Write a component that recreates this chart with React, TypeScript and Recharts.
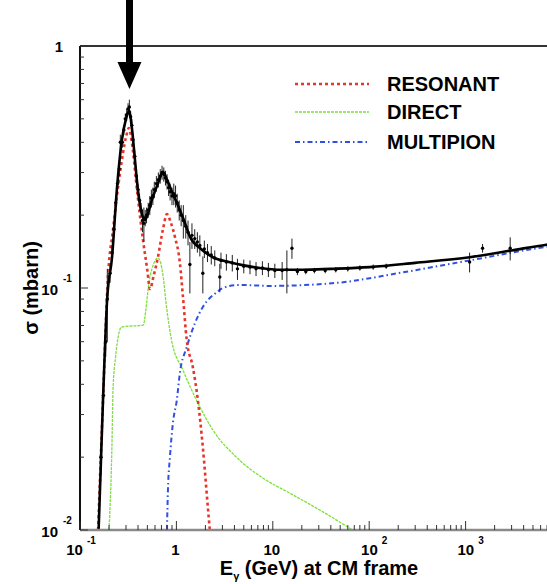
import {
  ComposedChart,
  Line,
  Scatter,
  ErrorBar,
  XAxis,
  YAxis,
  ReferenceLine,
  Legend,
  Label
} from "recharts";

const FONT = '"Liberation Sans", Arial, Helvetica, sans-serif';

// total fit (solid black)
const totalFit = [
  { e: 0.156, s: 0.01 },
  { e: 0.173, s: 0.034 },
  { e: 0.191, s: 0.089 },
  { e: 0.215, s: 0.134 },
  { e: 0.241, s: 0.254 },
  { e: 0.272, s: 0.409 },
  { e: 0.3, s: 0.5 },
  { e: 0.322, s: 0.54 },
  { e: 0.345, s: 0.46 },
  { e: 0.37, s: 0.345 },
  { e: 0.399, s: 0.254 },
  { e: 0.435, s: 0.205 },
  { e: 0.472, s: 0.191 },
  { e: 0.556, s: 0.231 },
  { e: 0.643, s: 0.27 },
  { e: 0.724, s: 0.302 },
  { e: 0.8, s: 0.28 },
  { e: 0.9, s: 0.25 },
  { e: 1.01, s: 0.225 },
  { e: 1.2, s: 0.19 },
  { e: 1.38, s: 0.163 },
  { e: 1.8, s: 0.145 },
  { e: 2.39, s: 0.134 },
  { e: 3.5, s: 0.128 },
  { e: 5, s: 0.124 },
  { e: 7.33, s: 0.121 },
  { e: 12, s: 0.119 },
  { e: 20.5, s: 0.119 },
  { e: 40, s: 0.12 },
  { e: 101, s: 0.122 },
  { e: 300, s: 0.127 },
  { e: 1100, s: 0.134 },
  { e: 3000, s: 0.143 },
  { e: 6900, s: 0.151 },
  { e: 10000, s: 0.154 }
];

const resonant = [
  { e: 0.154, s: 0.01 },
  { e: 0.173, s: 0.034 },
  { e: 0.195, s: 0.111 },
  { e: 0.22, s: 0.174 },
  { e: 0.26, s: 0.299 },
  { e: 0.3, s: 0.42 },
  { e: 0.322, s: 0.458 },
  { e: 0.345, s: 0.4 },
  { e: 0.39, s: 0.254 },
  { e: 0.45, s: 0.158 },
  { e: 0.5, s: 0.118 },
  { e: 0.531, s: 0.099 },
  { e: 0.58, s: 0.112 },
  { e: 0.643, s: 0.134 },
  { e: 0.724, s: 0.174 },
  { e: 0.798, s: 0.202 },
  { e: 0.88, s: 0.185 },
  { e: 0.964, s: 0.163 },
  { e: 1.087, s: 0.127 },
  { e: 1.17, s: 0.0918 },
  { e: 1.28, s: 0.061 },
  { e: 1.48, s: 0.0472 },
  { e: 1.67, s: 0.0344 },
  { e: 1.88, s: 0.022 },
  { e: 2.12, s: 0.0124 },
  { e: 2.22, s: 0.01 }
];

const direct = [
  { e: 0.2, s: 0.01 },
  { e: 0.215, s: 0.0235 },
  { e: 0.22, s: 0.0379 },
  { e: 0.234, s: 0.052 },
  { e: 0.27, s: 0.069 },
  { e: 0.453, s: 0.0703 },
  { e: 0.478, s: 0.079 },
  { e: 0.491, s: 0.087 },
  { e: 0.531, s: 0.111 },
  { e: 0.646, s: 0.133 },
  { e: 0.73, s: 0.111 },
  { e: 0.78, s: 0.087 },
  { e: 0.89, s: 0.061 },
  { e: 1.17, s: 0.0458 },
  { e: 1.67, s: 0.0335 },
  { e: 2.39, s: 0.0259 },
  { e: 4.24, s: 0.0199 },
  { e: 7.88, s: 0.0164 },
  { e: 15, s: 0.0142 },
  { e: 30.7, s: 0.0121 },
  { e: 67, s: 0.01 }
];

const multipion = [
  { e: 0.798, s: 0.01 },
  { e: 0.817, s: 0.0146 },
  { e: 0.857, s: 0.02 },
  { e: 0.92, s: 0.0277 },
  { e: 1.01, s: 0.0344 },
  { e: 1.087, s: 0.0446 },
  { e: 1.28, s: 0.057 },
  { e: 1.56, s: 0.0717 },
  { e: 1.88, s: 0.0835 },
  { e: 2.63, s: 0.0962 },
  { e: 3.03, s: 0.1 },
  { e: 4.55, s: 0.103 },
  { e: 9.31, s: 0.102 },
  { e: 46, s: 0.105 },
  { e: 222, s: 0.116 },
  { e: 1100, s: 0.13 },
  { e: 6900, s: 0.148 },
  { e: 10000, s: 0.151 }
];

// measured points with errors
const measured = [
  { e: 0.165, s: 0.02, err: 0.003 },
  { e: 0.175, s: 0.036, err: 0.005 },
  { e: 0.185, s: 0.06, err: 0.008 },
  { e: 0.192, s: 0.09, err: 0.03 },
  { e: 0.205, s: 0.115, err: 0.01 },
  { e: 0.215, s: 0.14, err: 0.01 },
  { e: 0.225, s: 0.175, err: 0.012 },
  { e: 0.235, s: 0.225, err: 0.015 },
  { e: 0.245, s: 0.27, err: 0.02 },
  { e: 0.255, s: 0.31, err: 0.02 },
  { e: 0.262, s: 0.4, err: 0.03 },
  { e: 0.275, s: 0.4, err: 0.02 },
  { e: 0.285, s: 0.45, err: 0.02 },
  { e: 0.295, s: 0.5, err: 0.025 },
  { e: 0.305, s: 0.52, err: 0.03 },
  { e: 0.315, s: 0.55, err: 0.03 },
  { e: 0.325, s: 0.56, err: 0.04 },
  { e: 0.335, s: 0.51, err: 0.03 },
  { e: 0.345, s: 0.47, err: 0.03 },
  { e: 0.355, s: 0.41, err: 0.025 },
  { e: 0.37, s: 0.35, err: 0.02 },
  { e: 0.385, s: 0.29, err: 0.02 },
  { e: 0.4, s: 0.255, err: 0.015 },
  { e: 0.415, s: 0.23, err: 0.015 },
  { e: 0.43, s: 0.21, err: 0.015 },
  { e: 0.445, s: 0.19, err: 0.02 },
  { e: 0.46, s: 0.185, err: 0.03 },
  { e: 0.475, s: 0.195, err: 0.015 },
  { e: 0.49, s: 0.2, err: 0.015 },
  { e: 0.51, s: 0.21, err: 0.015 },
  { e: 0.53, s: 0.22, err: 0.02 },
  { e: 0.55, s: 0.235, err: 0.02 },
  { e: 0.57, s: 0.24, err: 0.02 },
  { e: 0.59, s: 0.255, err: 0.02 },
  { e: 0.62, s: 0.27, err: 0.02 },
  { e: 0.65, s: 0.28, err: 0.02 },
  { e: 0.68, s: 0.29, err: 0.02 },
  { e: 0.71, s: 0.3, err: 0.02 },
  { e: 0.74, s: 0.295, err: 0.02 },
  { e: 0.77, s: 0.285, err: 0.02 },
  { e: 0.8, s: 0.275, err: 0.02 },
  { e: 0.83, s: 0.26, err: 0.02 },
  { e: 0.86, s: 0.25, err: 0.02 },
  { e: 0.9, s: 0.24, err: 0.02 },
  { e: 0.94, s: 0.245, err: 0.025 },
  { e: 0.98, s: 0.24, err: 0.025 },
  { e: 1.02, s: 0.225, err: 0.02 },
  { e: 1.07, s: 0.21, err: 0.02 },
  { e: 1.12, s: 0.2, err: 0.02 },
  { e: 1.18, s: 0.19, err: 0.03 },
  { e: 1.25, s: 0.18, err: 0.02 },
  { e: 1.32, s: 0.17, err: 0.02 },
  { e: 1.38, s: 0.125, err: 0.03 },
  { e: 1.45, s: 0.165, err: 0.02 },
  { e: 1.55, s: 0.16, err: 0.015 },
  { e: 1.65, s: 0.155, err: 0.015 },
  { e: 1.75, s: 0.15, err: 0.015 },
  { e: 1.88, s: 0.115, err: 0.02 },
  { e: 1.95, s: 0.145, err: 0.012 },
  { e: 2.1, s: 0.14, err: 0.012 },
  { e: 2.3, s: 0.137, err: 0.012 },
  { e: 2.5, s: 0.133, err: 0.01 },
  { e: 2.82, s: 0.111, err: 0.015 },
  { e: 2.9, s: 0.13, err: 0.01 },
  { e: 3.3, s: 0.128, err: 0.01 },
  { e: 3.8, s: 0.127, err: 0.01 },
  { e: 4.3, s: 0.12, err: 0.012 },
  { e: 5.0, s: 0.123, err: 0.008 },
  { e: 5.8, s: 0.122, err: 0.008 },
  { e: 6.7, s: 0.12, err: 0.008 },
  { e: 7.8, s: 0.121, err: 0.008 },
  { e: 9.0, s: 0.119, err: 0.008 },
  { e: 10.5, s: 0.118, err: 0.008 },
  { e: 12.5, s: 0.118, err: 0.01 },
  { e: 14, s: 0.119, err: 0.024 },
  { e: 15.8, s: 0.146, err: 0.014 },
  { e: 18, s: 0.117, err: 0.004 },
  { e: 22, s: 0.117, err: 0.003 },
  { e: 27, s: 0.118, err: 0.003 },
  { e: 35, s: 0.118, err: 0.003 },
  { e: 45, s: 0.119, err: 0.003 },
  { e: 60, s: 0.12, err: 0.003 },
  { e: 80, s: 0.121, err: 0.003 },
  { e: 110, s: 0.122, err: 0.003 },
  { e: 150, s: 0.123, err: 0.003 },
  { e: 1100, s: 0.128, err: 0.012 },
  { e: 1500, s: 0.146, err: 0.006 },
  { e: 2900, s: 0.146, err: 0.016 }
];

const xTicks = [
  0.1, 0.2, 0.3, 0.4, 0.5, 0.6, 0.7, 0.8, 0.9,
  1, 2, 3, 4, 5, 6, 7, 8, 9,
  10, 20, 30, 40, 50, 60, 70, 80, 90,
  100, 200, 300, 400, 500, 600, 700, 800, 900,
  1000, 2000, 3000, 4000, 5000, 6000, 7000, 8000, 9000, 10000
];
const yTicks = [
  0.01, 0.02, 0.03, 0.04, 0.05, 0.06, 0.07, 0.08, 0.09,
  0.1, 0.2, 0.3, 0.4, 0.5, 0.6, 0.7, 0.8, 0.9, 1
];
const xTickLabels = [
  { v: 0.1, base: "10", sup: "-1" },
  { v: 1, base: "1", sup: "" },
  { v: 10, base: "10", sup: "" },
  { v: 100, base: "10", sup: "2" },
  { v: 1000, base: "10", sup: "3" }
];
const yTickLabels = [
  { v: 0.01, base: "10", sup: "-2" },
  { v: 0.1, base: "10", sup: "-1" },
  { v: 1, base: "1", sup: "" }
];
const seriesNames = ["RESONANT", "DIRECT", "MULTIPION"];

const styles = [
  { color: "#e8352b", dash: "3 3", width: 2.6 },
  { color: "#7ee03c", dash: "3 1", width: 1.3 },
  { color: "#3050e0", dash: "5 3 1.5 3", width: 2 }
];

const isMajor = (v: number) => {
  const lg = Math.log10(v);
  return Math.abs(lg - Math.round(lg)) < 1e-6;
};
const findLabel = (list: typeof xTickLabels, v: number) =>
  list.find((t) => Math.abs(t.v - v) / t.v < 1e-6);

const XTick = ({ x, y, payload }: any) => {
  const v = payload.value;
  const major = isMajor(v);
  const lab = major ? findLabel(xTickLabels, v) : undefined;
  const shift = lab && lab.sup ? (lab.sup.length > 1 ? 1 : 5) : -1;
  return (
    <g>
      <line x1={x} x2={x} y1={y} y2={y - (major ? 9 : 5)} stroke="#333" strokeWidth={1} />
      {lab && (
        <text
          x={x + shift}
          y={y + 25}
          textAnchor="middle"
          fontFamily={FONT}
          fontWeight="bold"
          fontSize={15}
          fill="#000"
        >
          {lab.base}
          {lab.sup && (
            <tspan dx={4} dy={-11} fontSize={10}>
              {lab.sup}
            </tspan>
          )}
        </text>
      )}
    </g>
  );
};

const YTick = ({ x, y, payload }: any) => {
  const v = payload.value;
  const major = isMajor(v);
  const lab = major ? findLabel(yTickLabels, v) : undefined;
  return (
    <g>
      <line x1={x} x2={x + (major ? 8 : 4)} y1={y} y2={y} stroke="#333" strokeWidth={1} />
      {lab && !lab.sup && (
        <text x={x - 17} y={y + 6} textAnchor="end" fontFamily={FONT} fontWeight="bold" fontSize={15}>
          {lab.base}
        </text>
      )}
      {lab && lab.sup && (
        <g fontFamily={FONT} fontWeight="bold">
          <text x={x - 22} y={y + 7} textAnchor="end" fontSize={15}>
            {lab.base}
          </text>
          <text x={x - 17} y={y - 6} textAnchor="start" fontSize={10}>
            {lab.sup}
          </text>
        </g>
      )}
    </g>
  );
};

const XTitle = ({ viewBox }: any) => (
  <text
    x={viewBox.x + viewBox.width / 2 - 2}
    y={viewBox.y + 45}
    textAnchor="middle"
    fontFamily={FONT}
    fontWeight="bold"
    fontSize={20}
  >
    E
    <tspan fontSize={11} dy={5}>
      γ
    </tspan>
    <tspan dy={-5}> (GeV) at CM frame</tspan>
  </text>
);

const YTitle = ({ viewBox }: any) => {
  const cx = 38;
  const cy = viewBox.y + viewBox.height / 2;
  return (
    <text
      x={cx}
      y={cy}
      transform={`rotate(-90, ${cx}, ${cy})`}
      textAnchor="middle"
      fontFamily={FONT}
      fontWeight="bold"
      fontSize={20}
    >
      σ (mbarn)
    </text>
  );
};

const Arrow = (p: any) => {
  const { x1, y1, x2, y2 } = p;
  return (
    <g>
      <line x1={x1} y1={y1} x2={x2} y2={y2 - 24} stroke="#000" strokeWidth={7} />
      <polygon points={`${x2 - 12},${y2 - 27} ${x2 + 12},${y2 - 27} ${x2},${y2}`} fill="#000" />
    </g>
  );
};

const PointDot = (p: any) => <circle cx={p.cx} cy={p.cy} r={1.7} fill="#000" />;

const LegendBox = () => (
  <svg width={230} height={90} style={{ display: "block" }}>
    {seriesNames.map((name, i) => {
      const rowY = [14, 42, 72][i];
      const st = styles[i];
      return (
        <g key={name}>
          <line
            x1={0}
            x2={74}
            y1={rowY}
            y2={rowY}
            stroke={st.color}
            strokeWidth={st.width}
            strokeDasharray={st.dash}
          />
          <text x={92} y={rowY + 7} fontFamily={FONT} fontWeight="bold" fontSize={20} fill="#000">
            {name}
          </text>
        </g>
      );
    })}
  </svg>
);

export default function App() {
  return (
    <div
      style={{
        position: "fixed",
        left: 0,
        top: 0,
        width: 547,
        height: 584,
        overflow: "hidden",
        background: "#fff"
      }}
    >
      <ComposedChart width={580} height={584} margin={{ top: 46, right: 18, left: 0, bottom: 24 }}>
        <XAxis
          dataKey="e"
          type="number"
          scale="log"
          domain={[0.1, 10000]}
          allowDataOverflow
          ticks={xTicks}
          interval={0}
          tick={<XTick />}
          tickLine={false}
          tickSize={0}
          tickMargin={0}
          height={30}
          axisLine={{ stroke: "#8a8a8a", strokeWidth: 2.5 }}
          label={<Label content={XTitle} />}
        />
        <YAxis
          type="number"
          scale="log"
          domain={[0.01, 1]}
          allowDataOverflow
          ticks={yTicks}
          interval={0}
          tick={<YTick />}
          tickLine={false}
          tickSize={0}
          tickMargin={0}
          width={80}
          axisLine={{ stroke: "#111", strokeWidth: 2 }}
          label={<Label content={YTitle} />}
        />
        <ReferenceLine y={1} stroke="#333" strokeWidth={2} ifOverflow="visible" />
        <Line
          data={direct}
          dataKey="s"
          type="monotone"
          stroke={styles[1].color}
          strokeWidth={styles[1].width}
          strokeDasharray={styles[1].dash}
          dot={false}
          activeDot={false}
          isAnimationActive={false}
        />
        <Line
          data={multipion}
          dataKey="s"
          type="monotone"
          stroke={styles[2].color}
          strokeWidth={styles[2].width}
          strokeDasharray={styles[2].dash}
          dot={false}
          activeDot={false}
          isAnimationActive={false}
        />
        <Line
          data={resonant}
          dataKey="s"
          type="monotone"
          stroke={styles[0].color}
          strokeWidth={styles[0].width}
          strokeDasharray={styles[0].dash}
          dot={false}
          activeDot={false}
          isAnimationActive={false}
        />
        <Scatter data={measured} dataKey="s" shape={PointDot} isAnimationActive={false}>
          <ErrorBar dataKey="err" direction="y" width={0} stroke="#222" strokeWidth={1} />
        </Scatter>
        <Line
          data={totalFit}
          dataKey="s"
          type="monotone"
          stroke="#000"
          strokeWidth={2.6}
          dot={false}
          activeDot={false}
          isAnimationActive={false}
        />
        <ReferenceLine
          segment={[
            { x: 0.326, y: 1.6 },
            { x: 0.326, y: 0.665 }
          ]}
          ifOverflow="visible"
          shape={Arrow}
        />
        <Legend
          layout="vertical"
          align="center"
          verticalAlign="middle"
          content={LegendBox}
          wrapperStyle={{ left: 295, top: 70, width: 230, height: 90 }}
        />
      </ComposedChart>
    </div>
  );
}
